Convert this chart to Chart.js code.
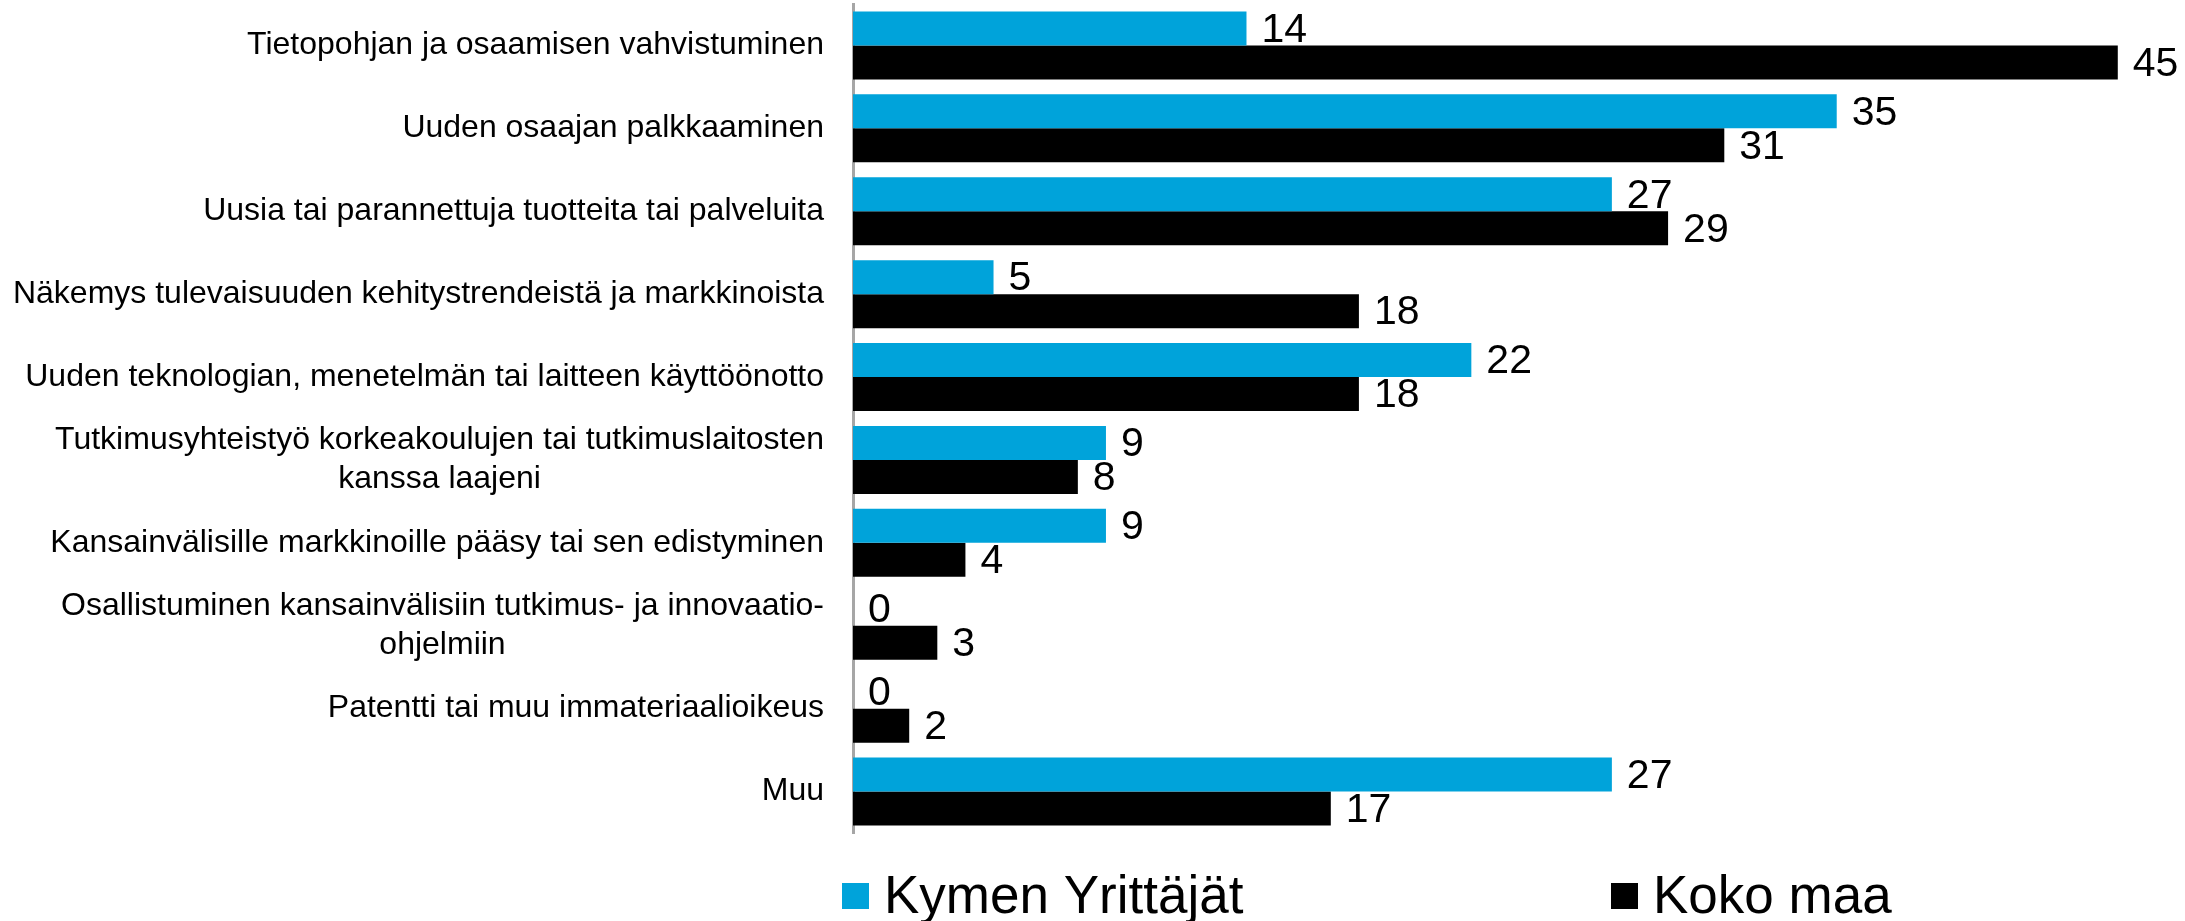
<!DOCTYPE html>
<html lang="fi">
<head>
<meta charset="utf-8">
<title>Hankkeen tulokset</title>
<script src="https://cdn.jsdelivr.net/npm/chart.js@4.4.1/dist/chart.umd.min.js"></script>
<style>
  html, body { margin: 0; padding: 0; background: #ffffff; }
  #wrap { width: 2185px; height: 921px; }
</style>
</head>
<body>
<div id="wrap"><canvas id="chart" width="2185" height="921"></canvas></div>
<script>
// Categories (multi-line labels given as arrays of lines)
const categories = [
  'Tietopohjan ja osaamisen vahvistuminen',
  'Uuden osaajan palkkaaminen',
  'Uusia tai parannettuja tuotteita tai palveluita',
  'Näkemys tulevaisuuden kehitystrendeistä ja markkinoista',
  'Uuden teknologian, menetelmän tai laitteen käyttöönotto',
  ['Tutkimusyhteistyö korkeakoulujen tai tutkimuslaitosten', 'kanssa laajeni'],
  'Kansainvälisille markkinoille pääsy tai sen edistyminen',
  ['Osallistuminen kansainvälisiin tutkimus- ja innovaatio-', 'ohjelmiin'],
  'Patentti tai muu immateriaalioikeus',
  'Muu'
];

const seriesNames = ['Kymen Yrittäjät', 'Koko maa'];
const kymenValues = [14, 35, 27, 5, 22, 9, 9, 0, 0, 27];
const kokoMaaValues = [45, 31, 29, 18, 18, 8, 4, 3, 2, 17];

const BLUE = '#00A3DA';
const BLACK = '#000000';
const FONT = '"Liberation Sans", Arial, Helvetica, sans-serif';

// Category labels: right-aligned block, lines centred inside the block
const categoryLabels = {
  id: 'categoryLabels',
  afterDraw(chart) {
    const { ctx } = chart;
    const yScale = chart.scales.y;
    const right = yScale.right - 29;
    const lineHeight = 39;
    ctx.save();
    ctx.font = '32px ' + FONT;
    ctx.fillStyle = '#000000';
    ctx.textBaseline = 'middle';
    ctx.textAlign = 'center';
    categories.forEach((label, i) => {
      const lines = Array.isArray(label) ? label : [label];
      const widest = Math.max(...lines.map(l => ctx.measureText(l).width));
      const cx = right - widest / 2;
      const cy = yScale.getPixelForValue(i);
      const y0 = cy - (lines.length - 1) * lineHeight / 2;
      lines.forEach((line, j) => ctx.fillText(line, cx, y0 + j * lineHeight));
    });
    ctx.restore();
  }
};

// Value labels at the end of every bar
const valueLabels = {
  id: 'valueLabels',
  afterDatasetsDraw(chart) {
    const { ctx } = chart;
    ctx.save();
    ctx.font = '41px ' + FONT;
    ctx.fillStyle = '#000000';
    ctx.textAlign = 'left';
    ctx.textBaseline = 'middle';
    chart.data.datasets.forEach((ds, di) => {
      chart.getDatasetMeta(di).data.forEach((bar, i) => {
        ctx.fillText(String(ds.data[i]), bar.x + 15, bar.y + 2);
      });
    });
    ctx.restore();
  }
};

// Legend below the plot
const bottomLegend = {
  id: 'bottomLegend',
  afterDraw(chart) {
    const { ctx } = chart;
    const itemX = [842, 1611];
    const cy = 896;
    ctx.save();
    ctx.font = '53px ' + FONT;
    ctx.textAlign = 'left';
    ctx.textBaseline = 'middle';
    chart.data.datasets.forEach((ds, i) => {
      ctx.fillStyle = ds.backgroundColor;
      ctx.fillRect(itemX[i], cy - 13, 27, 26);
      ctx.fillStyle = '#000000';
      ctx.fillText(ds.label, itemX[i] + 42, cy + 2);
    });
    ctx.restore();
  }
};

new Chart(document.getElementById('chart'), {
  type: 'bar',
  data: {
    labels: categories,
    datasets: [
      { label: seriesNames[0], data: kymenValues, backgroundColor: BLUE,
        barPercentage: 1.0, categoryPercentage: 0.82 },
      { label: seriesNames[1], data: kokoMaaValues, backgroundColor: BLACK,
        barPercentage: 1.0, categoryPercentage: 0.82 }
    ]
  },
  options: {
    indexAxis: 'y',
    responsive: false,
    animation: false,
    devicePixelRatio: 1,
    layout: { padding: { top: 4, bottom: 88, right: 11, left: 0 } },
    plugins: {
      legend: { display: false },
      tooltip: { enabled: false }
    },
    scales: {
      x: { display: false, min: 0, max: 47 },
      y: {
        display: true,
        grid: { display: false },
        border: { display: true, color: '#A6A6A6', width: 3 },
        ticks: { display: false },
        afterFit(scale) { scale.width = 853; }
      }
    }
  },
  plugins: [categoryLabels, valueLabels, bottomLegend]
});
</script>
</body>
</html>
